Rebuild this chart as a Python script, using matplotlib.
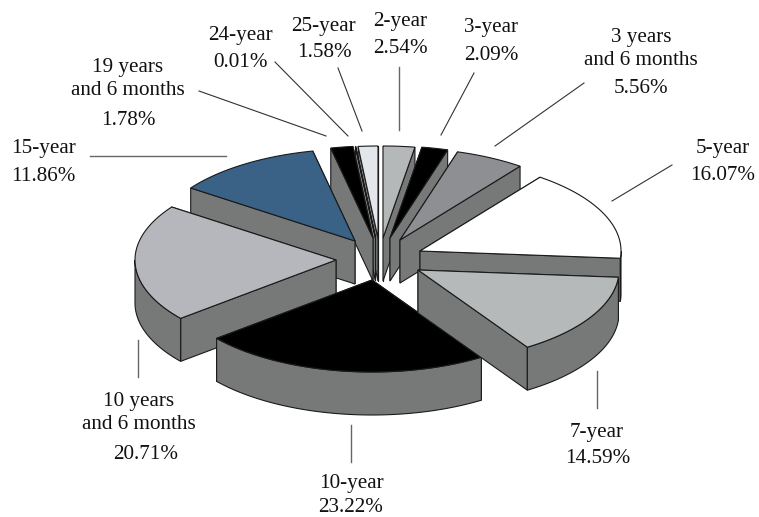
import numpy as np
import matplotlib
matplotlib.use('Agg')
import matplotlib.pyplot as plt
from matplotlib.patches import Polygon

plt.rcParams['font.family'] = ['Liberation Serif', 'DejaVu Serif']

# Share of each maturity, clockwise from twelve o'clock
names = ['2-year', '3-year', '3 years\nand 6 months', '5-year', '7-year', '10-year',
         '10 years\nand 6 months', '15-year', '19 years\nand 6 months', '24-year', '25-year']
shares = [2.54, 2.09, 5.56, 16.07, 14.59, 23.22, 20.71, 11.86, 1.78, 0.01, 1.58]

# Look of the slices
top_colors = ['#b5b8b8', '#000000', '#8e8f92', '#ffffff', '#b5b9ba', '#000000',
              '#b6b7bc', '#3a6186', '#000000', '#ffffff', '#e3e6ea']
wall_color = '#777978'
edge_color = '#1a1a1a'

# Exploded tip of each slice, in pixels
tip_x = [383, 390, 400, 420, 418, 372, 336, 355, 373, 375.5, 378]
tip_y = [238, 238, 240, 251, 270, 280, 260, 241, 238, 238, 238]
rx, ry = 201, 92
depth = 43

# Back to front
draw_order = [0, 10, 1, 9, 8, 2, 7, 3, 6, 5, 4]

# Text baselines (last line of a name) and leader lines, in pixels
name_xy = [(400, 26), (491, 32), (641, 65), (723, 153), (597, 437), (351, 488),
           (139, 429), (43, 153), (128, 95), (240, 40), (323, 31)]
share_xy = [(400, 53), (491, 60), (641, 93), (723, 180), (598, 463), (351, 512),
            (146, 459), (43, 181), (128, 125), (241, 67), (324, 57)]
leaders = [((399, 130), (399, 67)), ((441, 135), (474, 73)), ((495, 146), (584, 83)),
           ((612, 201), (672, 165)), ((597, 371), (597, 408)), ((351, 425), (351, 462)),
           ((138, 340), (138, 377)), ((90, 156), (226, 156)), ((199, 91), (326, 136)),
           ((275, 62), (348, 136)), ((338, 68), (362, 131))]

fig = plt.figure(figsize=(7.59, 5.17), dpi=100)
ax = fig.add_axes([0, 0, 1, 1])
ax.set_xlim(0, 759)
ax.set_ylim(517, 0)
ax.axis('off')


def rim(cx, cy, a):
    # a is in degrees clockwise from the top
    r = np.radians(a)
    return cx + rx * np.sin(r), cy - ry * np.cos(r)


def add_poly(pts, color, z):
    ax.add_patch(Polygon(pts, closed=True, facecolor=color, edgecolor=edge_color,
                         linewidth=0.8, joinstyle='miter', zorder=z))


edges = np.concatenate([[0], np.cumsum(shares)]) * 360 / np.sum(shares)

z = 1
for i in draw_order:
    a0, a1 = edges[i], edges[i + 1]
    cx, cy = tip_x[i], tip_y[i]

    # straight side walls, the nearer one painted last
    walls = []
    for a in (a0, a1):
        x, y = rim(cx, cy, a)
        walls.append((y, [(cx, cy), (x, y), (x, y + depth), (cx, cy + depth)]))
    walls.sort(key=lambda w: w[0])
    for w in walls:
        add_poly(w[1], wall_color, z)
        z += 1

    # curved outer wall, only the part facing us
    lo, hi = max(a0, 90), min(a1, 270)
    if hi > lo:
        t = np.linspace(lo, hi, 60)
        x, y = rim(cx, cy, t)
        pts = list(zip(x, y)) + list(zip(x[::-1], y[::-1] + depth))
        add_poly(pts, wall_color, z)
        z += 1

    # top face
    t = np.linspace(a0, a1, 60)
    x, y = rim(cx, cy, t)
    add_poly([(cx, cy)] + list(zip(x, y)), top_colors[i], z)
    z += 1

for p, q in leaders:
    straight = p[0] == q[0] or p[1] == q[1]
    ax.plot([p[0], q[0]], [p[1], q[1]], color='#666666' if straight else '#333333',
            linewidth=1.0 if straight else 0.8, zorder=z)

for name, share, nxy, sxy in zip(names, shares, name_xy, share_xy):
    ax.text(nxy[0], nxy[1], name, ha='center', va='baseline', fontsize=15.2,
            linespacing=1.32, color='#111111', zorder=z + 1)
    ax.text(sxy[0], sxy[1], f'{share:.2f}%', ha='center', va='baseline', fontsize=15.2,
            color='#111111', zorder=z + 1)

fig.savefig('out.png', dpi=100)
